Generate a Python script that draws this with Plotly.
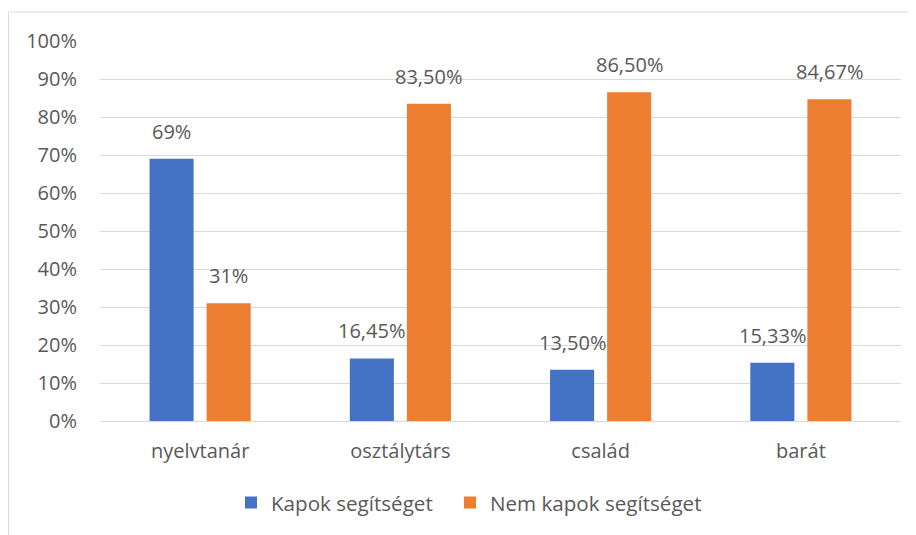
import plotly.graph_objects as go

categories = ["nyelvtanár", "osztálytárs", "család", "barát"]
kapok = [69, 16.45, 13.5, 15.33]
nem_kapok = [31, 83.5, 86.5, 84.67]
kapok_labels = ["69%", "16,45%", "13,50%", "15,33%"]
nem_labels = ["31%", "83,50%", "86,50%", "84,67%"]
y_ticks = list(range(0, 101, 10))
y_tick_labels = [f"{v}%" for v in y_ticks]

W, H = 916, 535
OFF = 8  # page body margin
ML, MR, MT, MB = 100 - OFF, 23, 41 - OFF, 122
BARGAP, GROUPGAP = 0.43, 0.228
FONT = "Open Sans"
TXT = "#595959"
BLUE, ORANGE = "#4472C4", "#ED7D31"

fig = go.Figure()
fig.add_trace(go.Bar(name="Kapok segítséget", x=categories, y=kapok, legend="legend",
                     marker=dict(color=BLUE, line=dict(width=0))))
fig.add_trace(go.Bar(name="Nem kapok segítséget", x=categories, y=nem_kapok, legend="legend2",
                     marker=dict(color=ORANGE, line=dict(width=0))))

# data labels placed through the axes, shifted by half a bar slot
plot_w = W - ML - MR
slot = plot_w / len(categories) * (1 - BARGAP) / 2
for vals, labels, sign in ((kapok, kapok_labels, -1), (nem_kapok, nem_labels, 1)):
    for c, v, t in zip(categories, vals, labels):
        fig.add_annotation(x=c, y=v, xref="x", yref="y", text=t, showarrow=False,
                           xshift=sign * slot / 2, yshift=12, yanchor="bottom",
                           font=dict(family=FONT, size=20, color=TXT))

# outer chart border
plot_h = H - MT - MB
x0 = (0.5 - ML) / plot_w
x1 = (W + 20 - ML) / plot_w
y1 = (H - MB - (12 - OFF)) / plot_h
y0 = (H - MB - (H + 20)) / plot_h
fig.add_shape(type="rect", xref="paper", yref="paper", x0=x0, x1=x1, y0=y0, y1=y1,
              line=dict(color="#D9D9D9", width=1), fillcolor="rgba(0,0,0,0)", layer="below")

leg_font = dict(family=FONT, size=20.6, color=TXT)
fig.update_layout(
    width=W, height=H,
    margin=dict(l=ML, r=MR, t=MT, b=MB),
    paper_bgcolor="white", plot_bgcolor="white",
    barmode="group", bargap=BARGAP, bargroupgap=GROUPGAP,
    font=dict(family=FONT, size=20, color=TXT),
    showlegend=True,
    legend=dict(orientation="h", x=(231 - OFF - ML) / plot_w, xanchor="left",
                y=-0.215, yanchor="middle", font=leg_font),
    legend2=dict(orientation="h", x=(450 - OFF - ML) / plot_w, xanchor="left",
                 y=-0.215, yanchor="middle", font=leg_font),
    xaxis=dict(showgrid=False, showline=False, ticks="outside", ticklen=12,
               tickcolor="rgba(0,0,0,0)", tickfont=dict(size=20, color=TXT)),
    yaxis=dict(range=[0, 100], tickvals=y_ticks, ticktext=y_tick_labels,
               showgrid=True, gridcolor="#D9D9D9", gridwidth=1,
               zeroline=True, zerolinecolor="#D9D9D9", zerolinewidth=1,
               showline=False, ticks="outside", ticklen=18, tickcolor="rgba(0,0,0,0)",
               tickfont=dict(size=20, color=TXT)),
)

fig.write_html("out.html")
